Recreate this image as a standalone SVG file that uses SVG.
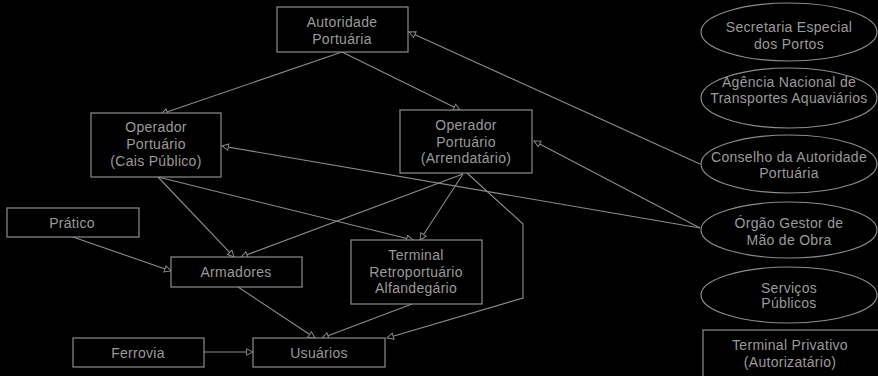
<svg xmlns="http://www.w3.org/2000/svg" width="878" height="376" viewBox="0 0 878 376">
<defs>
<style>
.n rect,.n ellipse{fill:#000;stroke:#8c8c8c;stroke-width:1.2}
.n text{fill:#9a9a9a;font-family:"Liberation Sans",Arial,sans-serif;font-size:14px;letter-spacing:0.3px;text-anchor:middle}
.c path{fill:none;stroke:#8c8c8c;stroke-width:1.1;marker-end:url(#ah)}
</style>
<marker id="ah" viewBox="0 0 10 10" refX="9" refY="5" markerWidth="8" markerHeight="8" orient="auto" markerUnits="userSpaceOnUse">
<path d="M1,1 L9,5 L1,9 Z" fill="#000" stroke="#8c8c8c" stroke-width="1.2"/>
</marker>
</defs>
<rect x="0" y="0" width="878" height="376" fill="#000"/>
<g id="connectors" class="c">
<path d="M342,52 L161,114"/>
<path d="M342,52 L460,110"/>
<path d="M700,164 L409,32"/>
<path d="M700,228 L534,141"/>
<path d="M700,228 L222,146"/>
<path d="M467,173 L523,224 L523,298 L387,338"/>
<path d="M463,174 L241,257"/>
<path d="M463,174 L420,240"/>
<path d="M158,177 L234,257"/>
<path d="M158,177 L413,240"/>
<path d="M70,236 L171,271"/>
<path d="M238,287 L315,338"/>
<path d="M412,304 L322,338"/>
<path d="M204,352 L253,352"/>
</g>
<g id="autoridade" class="n"><rect x="277" y="7" width="131" height="45"/><text x="342" y="27">Autoridade</text><text x="342" y="44">Portuária</text></g>
<g id="cais" class="n"><rect x="91" y="113" width="130" height="64"/><text x="156" y="132">Operador</text><text x="156" y="149">Portuário</text><text x="156" y="166">(Cais Público)</text></g>
<g id="arrendatario" class="n"><rect x="400" y="110" width="132" height="63"/><text x="466" y="130">Operador</text><text x="466" y="147">Portuário</text><text x="466" y="163">(Arrendatário)</text></g>
<g id="pratico" class="n"><rect x="7" y="208" width="132" height="29"/><text x="72" y="228">Prático</text></g>
<g id="armadores" class="n"><rect x="171" y="257" width="131" height="30"/><text x="236" y="277">Armadores</text></g>
<g id="terminal-retro" class="n"><rect x="351" y="240" width="131" height="64"/><text x="416" y="260">Terminal</text><text x="416" y="277">Retroportuário</text><text x="416" y="293">Alfandegário</text></g>
<g id="ferrovia" class="n"><rect x="73" y="338" width="131" height="29"/><text x="138" y="358">Ferrovia</text></g>
<g id="usuarios" class="n"><rect x="253" y="338" width="132" height="29"/><text x="319" y="358">Usuários</text></g>
<g id="secretaria" class="n"><ellipse cx="789" cy="32" rx="88" ry="29"/><text x="789" y="32">Secretaria Especial</text><text x="789" y="49">dos Portos</text></g>
<g id="agencia" class="n"><ellipse cx="789" cy="98" rx="88" ry="30"/><text x="789" y="87">Agência Nacional de</text><text x="789" y="103">Transportes Aquaviários</text></g>
<g id="conselho" class="n"><ellipse cx="789" cy="164" rx="88" ry="29"/><text x="789" y="162">Conselho da Autoridade</text><text x="789" y="178">Portuária</text></g>
<g id="orgao" class="n"><ellipse cx="789" cy="230" rx="88" ry="28"/><text x="789" y="228">Órgão Gestor de</text><text x="789" y="245">Mão de Obra</text></g>
<g id="servicos" class="n"><ellipse cx="789" cy="295" rx="88" ry="28"/><text x="789" y="293">Serviços</text><text x="789" y="308">Públicos</text></g>
<g id="terminal-privativo" class="n"><rect x="703" y="330" width="180" height="60"/><text x="790" y="350">Terminal Privativo</text><text x="790" y="367">(Autorizatário)</text></g>
</svg>
